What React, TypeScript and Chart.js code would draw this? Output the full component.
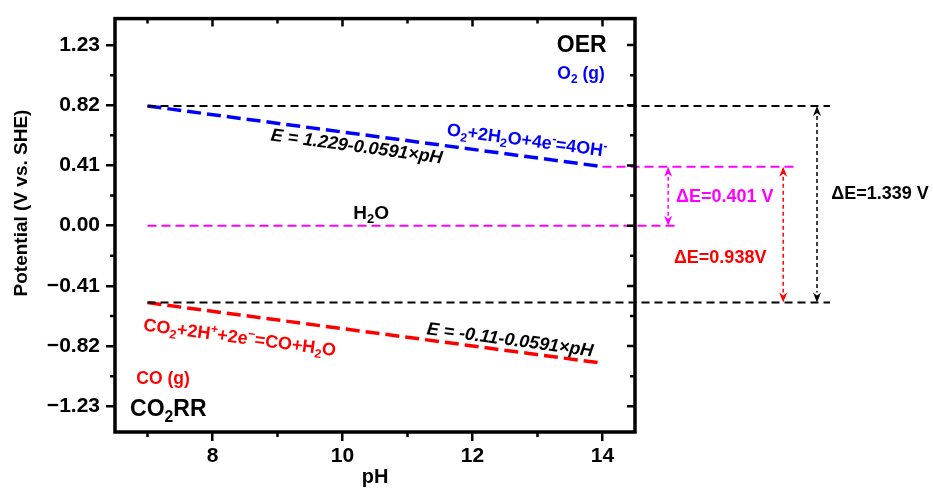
import React, { useEffect, useRef } from 'react';
import { Chart, registerables } from 'chart.js';

Chart.register(...registerables);

const FONT = '"Liberation Sans", Arial, Helvetica, sans-serif';

// ---- tick values / labels ----
const xTickValues = [8, 10, 12, 14];
const xTickLabels = ['8', '10', '12', '14'];
const xMinorTicks = [7, 9, 11, 13];
const yTickValues = [-1.23, -0.82, -0.41, 0, 0.41, 0.82, 1.23];
const yTickLabels = ['−1.23', '−0.82', '−0.41', '0.00', '0.41', '0.82', '1.23'];
const yMinorTicks = [-1.025, -0.615, -0.205, 0.205, 0.615, 1.025];

// ---- series (pH, potential V vs SHE) ----
const oerPH = [7, 14];
const oerE = [0.815, 0.402];
const co2rrPH = [7, 14];
const co2rrE = [-0.524, -0.937];
const oerRefPH = [7, 17.5];
const oerRefE = [0.815, 0.815];
const co2rrRefPH = [7, 17.5];
const co2rrRefE = [-0.524, -0.524];
const h2oPH = [7, 15.16];
const h2oE = [0, 0];
const oer14PH = [14, 16.96];
const oer14E = [0.402, 0.402];

// ---- double arrows (pH position, from E, to E) ----
const arrowPH = [15.01, 16.78, 17.3];
const arrowFromE = [0.402, 0.402, 0.815];
const arrowToE = [0, -0.524, -0.524];
const arrowColors = ['#ff00ff', '#ff0000', '#000000'];

type Part = [string, 'n' | 'b' | 'p'];
interface Label {
  x: number; y: number; size: number; color: string; italic?: boolean; angle?: number; parts: Part[];
}

const labels: Label[] = [
  { x: 10.22, y: 0.546, size: 18, italic: true, color: '#000000', angle: 7.6, parts: [['E = 1.229-0.0591×pH', 'n']] },
  { x: 12.84, y: 0.586, size: 18, color: '#0000ff', angle: 7.6, parts: [['O', 'n'], ['2', 'b'], ['+2H', 'n'], ['2', 'b'], ['O+4e', 'n'], ['-', 'p'], ['=4OH', 'n'], ['-', 'p']] },
  { x: 13.68, y: 1.241, size: 23, color: '#000000', parts: [['OER', 'n']] },
  { x: 13.67, y: 1.039, size: 17.5, color: '#0000ff', parts: [['O', 'n'], ['2', 'b'], [' (g)', 'n']] },
  { x: 10.44, y: 0.094, size: 19, color: '#000000', parts: [['H', 'n'], ['2', 'b'], ['O', 'n']] },
  { x: 8.42, y: -0.757, size: 18, color: '#ff0000', angle: 7.6, parts: [['CO', 'n'], ['2', 'b'], ['+2H', 'n'], ['+', 'p'], ['+2e', 'n'], ['−', 'p'], ['=CO+H', 'n'], ['2', 'b'], ['O', 'n']] },
  { x: 7.24, y: -1.034, size: 17.5, color: '#ff0000', parts: [['CO (g)', 'n']] },
  { x: 7.32, y: -1.243, size: 23, color: '#000000', parts: [['CO', 'n'], ['2', 'b'], ['RR', 'n']] },
  { x: 12.58, y: -0.771, size: 18, italic: true, color: '#000000', angle: 7.6, parts: [['E = -0.11-0.0591×pH', 'n']] },
  { x: 15.88, y: 0.208, size: 18, color: '#ff00ff', parts: [['ΔE=0.401 V', 'n']] },
  { x: 15.81, y: -0.21, size: 18, color: '#ff0000', parts: [['ΔE=0.938V', 'n']] },
  { x: 18.27, y: 0.229, size: 18, color: '#000000', parts: [['ΔE=1.339 V', 'n']] },
];

function pts(xs: number[], ys: number[]) {
  return xs.map((x, i) => ({ x, y: ys[i] }));
}

function drawRich(ctx: CanvasRenderingContext2D, l: Label, cx: number, cy: number) {
  const style = (l.italic ? 'italic ' : '') + 'bold ';
  const small = l.size * 0.68;
  const widths: number[] = [];
  let w = 0;
  for (const [t, k] of l.parts) {
    ctx.font = style + (k === 'n' ? l.size : small) + 'px ' + FONT;
    const m = ctx.measureText(t).width;
    widths.push(m);
    w += m;
  }
  ctx.save();
  ctx.translate(cx, cy);
  ctx.rotate(((l.angle || 0) * Math.PI) / 180);
  ctx.fillStyle = l.color;
  ctx.textBaseline = 'alphabetic';
  ctx.textAlign = 'left';
  let x = -w / 2;
  const base = l.size * 0.36;
  l.parts.forEach(([t, k], i) => {
    ctx.font = style + (k === 'n' ? l.size : small) + 'px ' + FONT;
    const dy = k === 'b' ? l.size * 0.22 : k === 'p' ? -l.size * 0.38 : 0;
    ctx.fillText(t, x, base + dy);
    x += widths[i];
  });
  ctx.restore();
}

function drawArrow(ctx: CanvasRenderingContext2D, x: number, yTop: number, yBot: number, color: string) {
  const head = 10;
  const hw = 4;
  ctx.save();
  ctx.strokeStyle = color;
  ctx.fillStyle = color;
  ctx.lineWidth = 1.5;
  ctx.setLineDash([4, 3]);
  ctx.beginPath();
  ctx.moveTo(x, yTop + head);
  ctx.lineTo(x, yBot - head);
  ctx.stroke();
  ctx.setLineDash([]);
  ctx.beginPath();
  ctx.moveTo(x, yTop);
  ctx.lineTo(x - hw, yTop + head);
  ctx.lineTo(x, yTop + head - 3);
  ctx.lineTo(x + hw, yTop + head);
  ctx.closePath();
  ctx.fill();
  ctx.beginPath();
  ctx.moveTo(x, yBot);
  ctx.lineTo(x - hw, yBot - head);
  ctx.lineTo(x, yBot - head + 3);
  ctx.lineTo(x + hw, yBot - head);
  ctx.closePath();
  ctx.fill();
  ctx.restore();
}

const decorPlugin = {
  id: 'decor',
  afterDraw(chart: any) {
    const ctx: CanvasRenderingContext2D = chart.ctx;
    const { left, right, top, bottom } = chart.chartArea;
    const xs = chart.scales.x;
    const ys = chart.scales.y;

    // arrows
    arrowPH.forEach((p, i) => {
      drawArrow(ctx, xs.getPixelForValue(p), ys.getPixelForValue(arrowFromE[i]), ys.getPixelForValue(arrowToE[i]), arrowColors[i]);
    });

    // ticks
    ctx.save();
    ctx.strokeStyle = '#000';
    ctx.lineWidth = 2.5;
    ctx.beginPath();
    xTickValues.forEach((v) => {
      const px = xs.getPixelForValue(v);
      ctx.moveTo(px, top);
      ctx.lineTo(px, top + 8);
    });
    xMinorTicks.forEach((v) => {
      const px = xs.getPixelForValue(v);
      ctx.moveTo(px, top);
      ctx.lineTo(px, top + 5);
      ctx.moveTo(px, bottom);
      ctx.lineTo(px, bottom + 5);
    });
    yTickValues.forEach((v) => {
      const py = ys.getPixelForValue(v);
      ctx.moveTo(right, py);
      ctx.lineTo(right - 8, py);
    });
    yMinorTicks.forEach((v) => {
      const py = ys.getPixelForValue(v);
      ctx.moveTo(right, py);
      ctx.lineTo(right - 5, py);
      ctx.moveTo(left, py);
      ctx.lineTo(left - 5, py);
    });
    ctx.stroke();

    // frame
    ctx.lineWidth = 3.5;
    ctx.strokeRect(left, top, right - left, bottom - top);
    ctx.restore();

    // y axis title
    ctx.save();
    ctx.translate(22, 203);
    ctx.rotate(-Math.PI / 2);
    ctx.fillStyle = '#000';
    ctx.font = 'bold 19px ' + FONT;
    ctx.textAlign = 'center';
    ctx.textBaseline = 'middle';
    ctx.fillText('Potential (V vs. SHE)', 0, 0);
    ctx.restore();

    // labels
    labels.forEach((l) => drawRich(ctx, l, xs.getPixelForValue(l.x), ys.getPixelForValue(l.y)));
  },
};

function lineDs(data: { x: number; y: number }[], color: string, width: number, dash: number[]) {
  return {
    data,
    borderColor: color,
    borderWidth: width,
    borderDash: dash,
    pointRadius: 0,
    fill: false,
    clip: false as any,
    tension: 0,
  };
}

export default function App() {
  const ref = useRef<HTMLCanvasElement | null>(null);
  useEffect(() => {
    if (!ref.current) return;
    const tickFont = { family: FONT, size: 21, weight: 'bold' as const };
    const chart = new Chart(ref.current, {
      type: 'line',
      data: {
        datasets: [
          lineDs(pts(oerRefPH, oerRefE), '#000000', 2, [8, 5]),
          lineDs(pts(co2rrRefPH, co2rrRefE), '#000000', 2, [8, 5]),
          lineDs(pts(h2oPH, h2oE), '#ff00ff', 2, [9, 5]),
          lineDs(pts(oer14PH, oer14E), '#ff00ff', 2, [9, 5]),
          lineDs(pts(oerPH, oerE), '#0000ff', 3.5, [14, 6]),
          lineDs(pts(co2rrPH, co2rrE), '#ff0000', 3.5, [14, 6]),
        ] as any,
      },
      options: {
        animation: false,
        responsive: true,
        maintainAspectRatio: false,
        layout: { padding: { top: 15, right: 298, bottom: 0, left: 0 } },
        plugins: { legend: { display: false }, tooltip: { enabled: false } },
        scales: {
          x: {
            type: 'linear',
            min: 6.5,
            max: 14.5,
            afterFit: (s: any) => { s.height = 59; },
            afterBuildTicks: (s: any) => { s.ticks = xTickValues.map((v) => ({ value: v })); },
            ticks: {
              callback: (_v: any, i: number) => xTickLabels[i],
              font: tickFont,
              color: '#000',
              padding: 3,
              maxRotation: 0,
              autoSkip: false,
            },
            grid: { drawOnChartArea: false, drawTicks: true, tickLength: 9, tickWidth: 2.5, lineWidth: 2.5, color: '#000' },
            border: { display: false },
            title: { display: true, text: 'pH', font: { family: FONT, size: 20, weight: 'bold' }, color: '#000', padding: { top: 0, bottom: 2 } },
          },
          y: {
            type: 'linear',
            min: -1.405,
            max: 1.41,
            afterFit: (s: any) => { s.width = 115; },
            afterBuildTicks: (s: any) => { s.ticks = yTickValues.map((v) => ({ value: v })); },
            ticks: {
              callback: (_v: any, i: number) => yTickLabels[i],
              font: tickFont,
              color: '#000',
              padding: 6,
              autoSkip: false,
            },
            grid: { drawOnChartArea: false, drawTicks: true, tickLength: 9, tickWidth: 2.5, lineWidth: 2.5, color: '#000' },
            border: { display: false },
            title: { display: false },
          },
        },
      },
      plugins: [decorPlugin],
    });
    return () => chart.destroy();
  }, []);
  return (
    <div style={{ position: 'absolute', left: 0, top: 0, width: 933, height: 491, background: '#fff' }}>
      <canvas ref={ref} />
    </div>
  );
}
